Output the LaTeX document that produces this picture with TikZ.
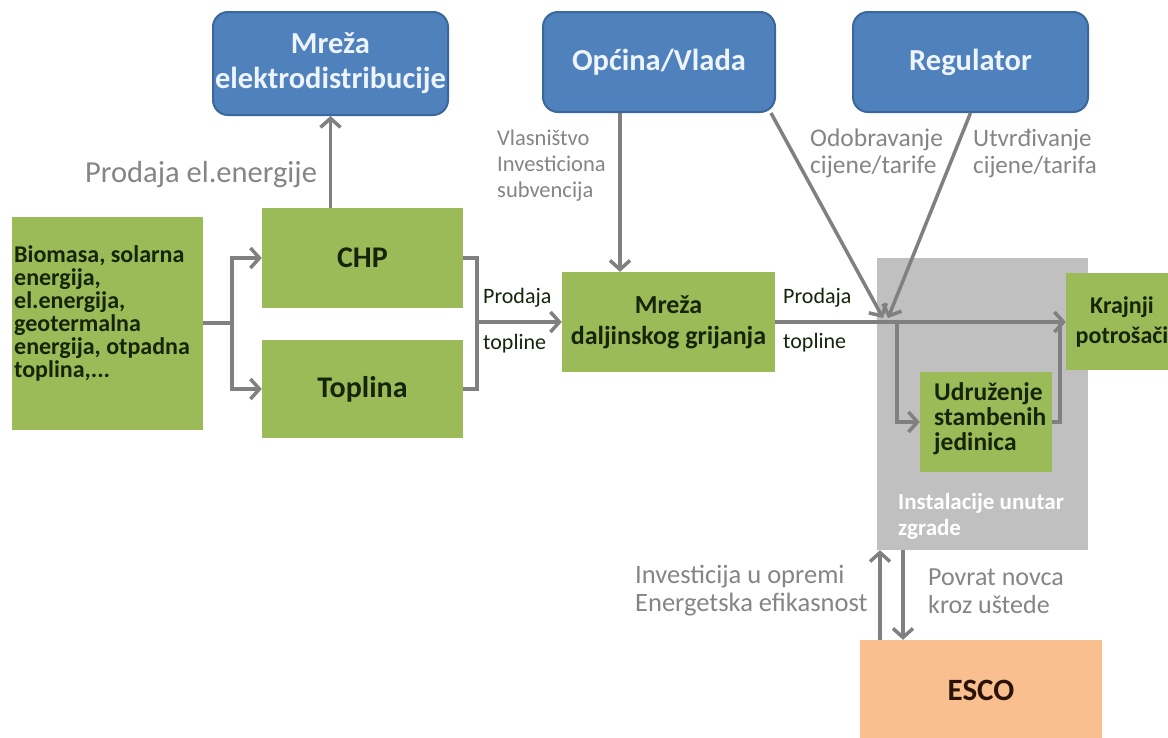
\documentclass[tikz,border=0pt]{standalone}
\usepackage{fontspec}
\setmainfont{Carlito}
\usetikzlibrary{arrows.meta,calc}
\definecolor{bluefill}{HTML}{4F81BD}
\definecolor{blueline}{HTML}{3A679C}
\definecolor{bluetext}{HTML}{EEF4FB}
\definecolor{greenfill}{HTML}{9BBB59}
\definecolor{graybg}{HTML}{C0C0C0}
\definecolor{escofill}{HTML}{F9BF8F}
\definecolor{arrowgray}{HTML}{808080}
\definecolor{labelgray}{HTML}{858585}
\definecolor{darktext}{HTML}{15250A}
\definecolor{escotext}{HTML}{2A1206}
\begin{document}
\begin{tikzpicture}[x=1pt,y=-1pt,
  bluebox/.style={draw=blueline, line width=2pt, fill=bluefill, rounded corners=15pt,
    text=bluetext, font=\bfseries\fontsize{30.5}{35}\selectfont, align=center, inner sep=0pt},
  greenbox/.style={fill=greenfill, inner sep=0pt, text=darktext, align=center},
  conn/.style={draw=arrowgray, line width=3.5pt},
  tipped/.style={conn, -{Straight Barb[length=9pt,width=20pt]}},
  graylbl/.style={text=labelgray, align=left, inner sep=0pt, anchor=west},
  darklbl/.style={text=darktext, inner sep=0pt, anchor=west, font=\fontsize{22}{24}\selectfont}
]
\useasboundingbox (0,0) rectangle (1168,737);
\fill[white] (0,0) rectangle (1168,737);
\clip (0,0) rectangle (1168,737);

% gray building area
\node[fill=graybg, inner sep=0pt, minimum width=211pt, minimum height=292pt] (bldg) at (982.5,404) {};
\node[inner sep=0pt, anchor=west, text=white, align=left, font=\bfseries\fontsize{23}{26}\selectfont] (inst) at (898,516) {Instalacije unutar\\zgrade};

% blue boxes
\node[bluebox, minimum width=235pt, minimum height=103pt] (elek) at (330.5,63.5) {Mreža\\elektrodistribucije};
\node[bluebox, minimum width=232pt, minimum height=100pt] (opc) at (659,62) {Općina/Vlada};
\node[bluebox, minimum width=235pt, minimum height=100pt] (reg) at (970.5,62) {Regulator};

% green boxes
\node[greenbox, minimum width=191pt, minimum height=213pt] (src) at (107.5,323.5) {};
\node[inner sep=0pt, anchor=west, text=darktext, align=left, font=\bfseries\fontsize{24}{23}\selectfont] (srctxt) at (14,313)
  {Biomasa, solarna\\energija,\\el.energija,\\geotermalna\\energija, otpadna\\toplina,...};
\node[greenbox, minimum width=201pt, minimum height=100pt, font=\bfseries\fontsize{30}{32}\selectfont] (chp) at (362.5,258) {CHP};
\node[greenbox, minimum width=201pt, minimum height=98pt, font=\bfseries\fontsize{30}{32}\selectfont] (topl) at (362.5,389) {Toplina};
\node[greenbox, minimum width=213pt, minimum height=100pt, font=\bfseries\fontsize{26}{31}\selectfont] (mdg) at (668.5,322) {Mreža\\daljinskog grijanja};
\node[greenbox, minimum width=112pt, minimum height=97pt, font=\bfseries\fontsize{24}{30}\selectfont] (kraj) at (1122,321.5) {Krajnji\\potrošači};
\node[greenbox, minimum width=132pt, minimum height=100pt] (udr) at (986,422) {};
\node[inner sep=0pt, anchor=west, text=darktext, align=left, font=\bfseries\fontsize{25.5}{25}\selectfont] (udrtxt) at (934,419)
  {Udruženje\\stambenih\\jedinica};

% ESCO
\node[fill=escofill, inner sep=0pt, minimum width=242pt, minimum height=100pt, text=escotext, font=\bfseries\fontsize{31}{34}\selectfont] (esco) at (981,690) {ESCO};

% connector coordinates
\coordinate (br1) at (232,323);
\coordinate (br2) at (477,322);
\coordinate (vx) at (620,0);
\coordinate (j1) at (883,318);
\coordinate (j2) at (888,318);
\coordinate (br3) at (897,322);
\coordinate (br4) at (1060,322);
\coordinate (ux) at (880,0);
\coordinate (dx) at (903,0);

% connectors
\draw[tipped] (elek.south |- chp.north) -- (elek.south);
\draw[conn] (src.east |- br1) -- (br1);
\draw[tipped] (br1) |- (chp.west);
\draw[tipped] (br1) |- (topl.west);
\draw[conn] (chp.east) -| (br2);
\draw[conn] (topl.east) -| (br2);
\draw[tipped] (br2) -- (mdg.west |- br2);
\draw[tipped] (vx |- opc.south) -- (vx |- mdg.north);
\draw[tipped] ($(opc.south east)+(-5,0)$) -- (j1);
\draw[tipped] (reg.south) -- (j2);
\draw[tipped] (mdg.east |- br3) -- (kraj.west |- br3);
\draw[tipped] (br3) |- (udr.west);
\draw[conn] (udr.east) -| (br4);
\draw[tipped] (ux |- esco.north) -- (ux |- bldg.south);
\draw[tipped] (dx |- bldg.south) -- (dx |- esco.north);

% labels
\node[graylbl, font=\fontsize{30.5}{32}\selectfont] (lblel) at (85,175) {Prodaja el.energije};
\node[graylbl, font=\fontsize{22.5}{26}\selectfont] (lblvl) at (497,166) {Vlasništvo\\Investiciona\\subvencija};
\node[graylbl, font=\fontsize{25.5}{27}\selectfont] (lblod) at (810,153) {Odobravanje\\cijene/tarife};
\node[graylbl, font=\fontsize{25}{27}\selectfont] (lblut) at (973,153) {Utvrđivanje\\cijene/tarifa};
\node[darklbl] (p1) at (483,298) {Prodaja};
\node[darklbl] (t1) at (483,344) {topline};
\node[darklbl] (p2) at (783,298) {Prodaja};
\node[darklbl] (t2) at (783,343) {topline};
\node[graylbl, font=\fontsize{26.5}{28}\selectfont] (lblinv) at (635,591) {Investicija u opremi\\Energetska efikasnost};
\node[graylbl, font=\fontsize{26}{28}\selectfont] (lblpov) at (928,591) {Povrat novca\\kroz uštede};
\end{tikzpicture}
\end{document}
